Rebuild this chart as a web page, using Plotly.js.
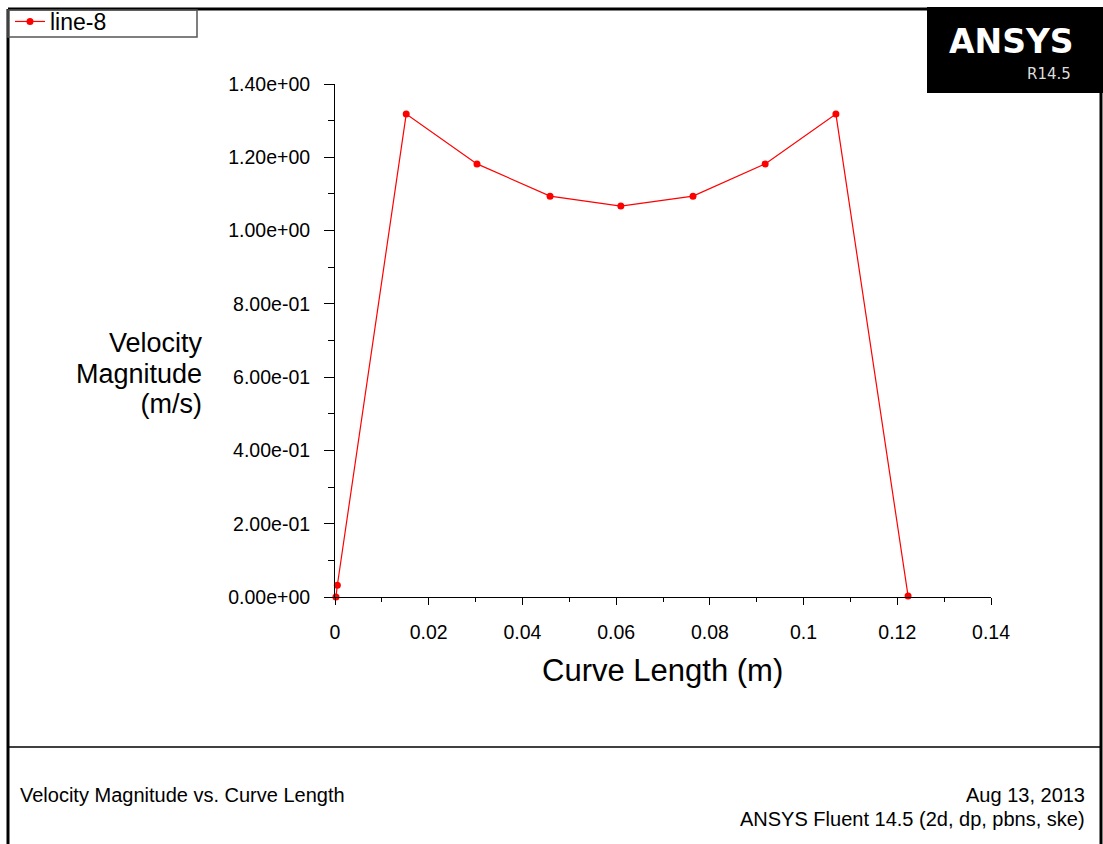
<!DOCTYPE html>
<html>
<head>
<meta charset="utf-8">
<script src="https://cdn.plot.ly/plotly-3.0.1.min.js"></script>
<style>html,body{margin:0;padding:0;background:#fff;overflow:hidden;}#chart{width:1103px;height:844px;}</style>
</head>
<body>
<div id="chart"></div>
<script>
// ---- data ----
const curveLength = [0.0002, 0.0005, 0.0152, 0.0303, 0.0459, 0.0610, 0.0764, 0.0918, 0.1069, 0.1223];
const velocity    = [0.000, 0.032, 1.318, 1.182, 1.094, 1.067, 1.094, 1.182, 1.318, 0.003];
const seriesName = 'line-8';
const xTickVals = [0, 0.02, 0.04, 0.06, 0.08, 0.1, 0.12, 0.14];
const xTickText = ['0', '0.02', '0.04', '0.06', '0.08', '0.1', '0.12', '0.14'];
const yTickVals = [0, 0.2, 0.4, 0.6, 0.8, 1.0, 1.2, 1.4];
const yTickText = ['0.00e+00', '2.00e-01', '4.00e-01', '6.00e-01', '8.00e-01', '1.00e+00', '1.20e+00', '1.40e+00'];
const xTitle = 'Curve Length (m)';
const yTitleLines = ['Velocity', 'Magnitude', '(m/s)'];
const footerLeft = 'Velocity Magnitude vs. Curve Length';
const footerDate = 'Aug 13, 2013';
const footerVersion = 'ANSYS Fluent 14.5 (2d, dp, pbns, ske)';
const logoMain = 'ANSYS';
const logoSub = 'R14.5';

// ---- layout geometry (pixels) ----
const W = 1103, H = 844;
const L = 335, R = 991, T = 84, B = 597;
const px = x => (x - L) / (R - L);
const py = y => (B - y) / (B - T);
const FONT = 'Arial, "Liberation Sans", sans-serif';

const trace = {
  x: curveLength, y: velocity, name: seriesName,
  type: 'scatter', mode: 'lines+markers',
  line: {color: '#ff0000', width: 1.2},
  marker: {color: '#ff0000', size: 7, symbol: 'circle'},
  cliponaxis: false
};

const shapes = [
  // outer frame
  {type: 'line', xref: 'paper', yref: 'paper', x0: px(8), x1: px(8), y0: py(9), y1: py(846), line: {color: '#000', width: 3}},
  {type: 'line', xref: 'paper', yref: 'paper', x0: px(8), x1: px(928), y0: py(9), y1: py(9), line: {color: '#000', width: 3}},
  {type: 'line', xref: 'paper', yref: 'paper', x0: px(1101), x1: px(1101), y0: py(93), y1: py(846), line: {color: '#000', width: 3}},
  // footer separator
  {type: 'line', xref: 'paper', yref: 'paper', x0: px(8), x1: px(1101), y0: py(747), y1: py(747), line: {color: '#000', width: 1.5}},
  // logo block
  {type: 'rect', xref: 'paper', yref: 'paper', x0: px(927), x1: px(1104), y0: py(7), y1: py(93), fillcolor: '#000', line: {width: 0}},
  // legend box
  {type: 'rect', xref: 'paper', yref: 'paper', x0: px(8), x1: px(197), y0: py(10), y1: py(37), fillcolor: 'rgba(0,0,0,0)', line: {color: '#555', width: 1.5}}
];

const annotations = [
  {xref: 'paper', yref: 'paper', x: px(1011), y: py(42), text: logoMain, showarrow: false, xanchor: 'center', yanchor: 'middle',
   font: {family: '"DejaVu Sans", sans-serif', size: 33, color: '#fff', weight: 'bold'}},
  {xref: 'paper', yref: 'paper', x: px(1073), y: py(74), text: logoSub, showarrow: false, xanchor: 'right', yanchor: 'middle',
   font: {family: '"DejaVu Sans", sans-serif', size: 15, color: '#ddd'}},
  {xref: 'paper', yref: 'paper', x: px(18), y: py(795), text: footerLeft, showarrow: false, xanchor: 'left', yanchor: 'middle',
   font: {family: FONT, size: 20, color: '#000'}},
  {xref: 'paper', yref: 'paper', x: px(1087), y: py(795), text: footerDate, showarrow: false, xanchor: 'right', yanchor: 'middle',
   font: {family: FONT, size: 20, color: '#000'}},
  {xref: 'paper', yref: 'paper', x: px(1087), y: py(819), text: footerVersion, showarrow: false, xanchor: 'right', yanchor: 'middle',
   font: {family: FONT, size: 20, color: '#000'}},
  {xref: 'paper', yref: 'paper', x: px(662), y: py(670), text: xTitle, showarrow: false, xanchor: 'center', yanchor: 'middle',
   font: {family: FONT, size: 31, color: '#000'}},
  // y-axis title: one text block, line spacing 1.3 x 23.5px, glyphs at 27px
  {xref: 'paper', yref: 'paper', x: px(205), y: py(373), showarrow: false, xanchor: 'right', yanchor: 'middle', align: 'right',
   text: yTitleLines.map(t => '<span style="font-size:27px">' + t + '</span>').join('<br>'),
   font: {family: FONT, size: 23.5, color: '#000'}}
];

const layout = {
  width: W, height: H,
  margin: {l: L, r: W - R, t: T, b: H - B, pad: 0, autoexpand: false},
  paper_bgcolor: '#fff', plot_bgcolor: '#fff',
  font: {family: FONT, color: '#000'},
  showlegend: true,
  legend: {x: px(10), y: py(0), xanchor: 'left', yanchor: 'top', bgcolor: 'rgba(0,0,0,0)', borderwidth: 0,
           font: {family: FONT, size: 23, color: '#000'}, tracegroupgap: 0, itemwidth: 30},
  xaxis: {
    range: [0, 0.14], tickvals: xTickVals, ticktext: xTickText,
    showgrid: false, zeroline: false, showline: true, linecolor: '#000', linewidth: 1,
    ticks: 'outside', ticklen: 7, tickcolor: '#000', tickwidth: 1, ticklabelstandoff: 11,
    minor: {dtick: 0.01, ticks: 'outside', ticklen: 4, tickcolor: '#000', showgrid: false},
    tickfont: {family: FONT, size: 19.5, color: '#000'}, fixedrange: true
  },
  yaxis: {
    range: [0, 1.4], tickvals: yTickVals, ticktext: yTickText,
    showgrid: false, zeroline: false, showline: true, linecolor: '#000', linewidth: 1,
    ticks: 'outside', ticklen: 10, tickcolor: '#000', tickwidth: 1, ticklabelstandoff: 10,
    minor: {dtick: 0.1, ticks: 'outside', ticklen: 6, tickcolor: '#000', showgrid: false},
    tickfont: {family: FONT, size: 19.5, color: '#000'}, fixedrange: true
  },
  shapes: shapes,
  annotations: annotations
};

Plotly.newPlot('chart', [trace], layout, {displayModeBar: false, staticPlot: true});
</script>
</body>
</html>
